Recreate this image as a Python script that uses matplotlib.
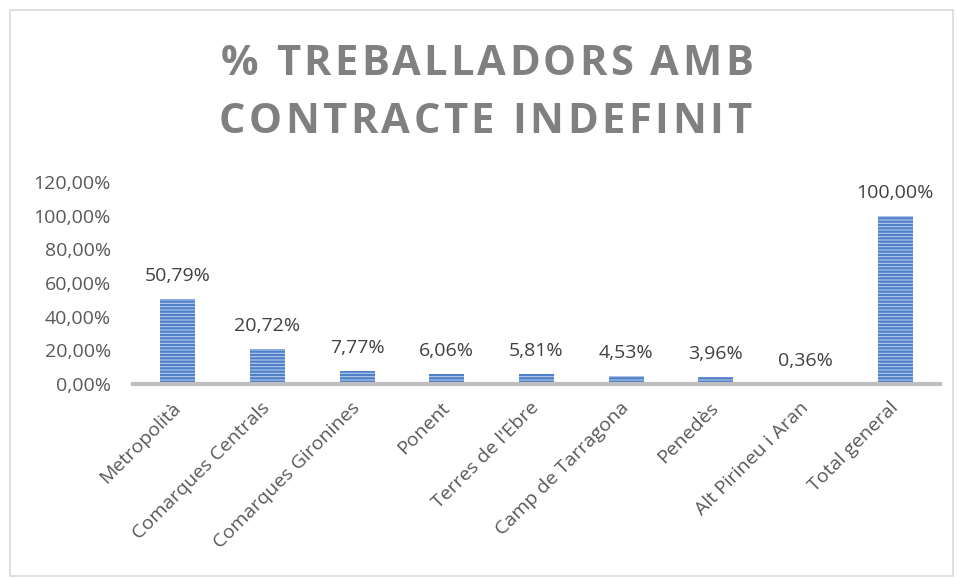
import matplotlib

matplotlib.use("Agg")
import matplotlib.pyplot as plt
from matplotlib.font_manager import FontProperties
from matplotlib.patches import Rectangle

categories = [
    "Metropolità",
    "Comarques Centrals",
    "Comarques Gironines",
    "Ponent",
    "Terres de l'Ebre",
    "Camp de Tarragona",
    "Penedès",
    "Alt Pirineu i Aran",
    "Total general",
]
values = [50.79, 20.72, 7.77, 6.06, 5.81, 4.53, 3.96, 0.36, 100.00]
yticks = [0, 20, 40, 60, 80, 100, 120]
title_lines = ["% TREBALLADORS AMB", "CONTRACTE INDEFINIT"]

W, H = 957, 578
TEXT = "#595959"
plt.rcParams["font.family"] = ["Open Sans", "DejaVu Sans"]
plt.rcParams["hatch.linewidth"] = 1.6

fig = plt.figure(figsize=(W / 100, H / 100), dpi=100)
fig.patches.append(Rectangle((10 / W, 2 / H), 943 / W, 566 / H,
                             transform=fig.transFigure, fill=False,
                             edgecolor="#d9d9d9", linewidth=1.2))

ax = fig.add_axes([133 / W, 1 - 384 / H, 807 / W, 202 / H])
x = range(len(categories))
ax.bar(x, values, width=0.39, color="#b4cbee", edgecolor="#4f7fc6",
       hatch="-----", linewidth=0)

for xi, v in zip(x, values):
    label = f"{v:.2f}".replace(".", ",") + "%"
    ax.annotate(label, (xi, v), xytext=(0, 10), textcoords="offset points",
                ha="center", va="bottom", fontsize=14, color="#404040")

ax.set_xlim(-0.5, len(categories) - 0.5)
ax.set_ylim(0, 120)
ax.set_yticks(yticks)
ax.set_yticklabels([f"{t},00%" for t in yticks], fontsize=14, color=TEXT)
ax.set_xticks(list(x))
ax.set_xticklabels(categories, rotation=45, ha="right", va="center",
                   rotation_mode="anchor", fontsize=14, color=TEXT)
ax.tick_params(axis="y", length=0, pad=16)
ax.tick_params(axis="x", length=0, pad=15)
for side in ("top", "right", "left"):
    ax.spines[side].set_visible(False)
ax.spines["bottom"].set_color("#bfbfbf")
ax.spines["bottom"].set_linewidth(3)

# title with letter spacing, drawn one character at a time
renderer = fig.canvas.get_renderer()
prop = FontProperties(family="Open Sans", weight="bold", size=30)


def text_width(s):
    w, _, _ = renderer.get_text_width_height_descent(s, prop, ismath=False)
    return w


for line, (left, right, base) in zip(title_lines, [(221, 753, 75), (219, 751, 133)]):
    natural = text_width(line)
    spacing = (right - left - natural) / (len(line) - 1)
    for i, ch in enumerate(line):
        offset = text_width(line[:i] + "|") - text_width("|") if i else 0
        xpos = left + offset + i * spacing
        fig.text(xpos / W, 1 - base / H, ch, ha="left", va="baseline",
                 fontproperties=prop, color="#808080")

fig.savefig("out.png", dpi=100)
